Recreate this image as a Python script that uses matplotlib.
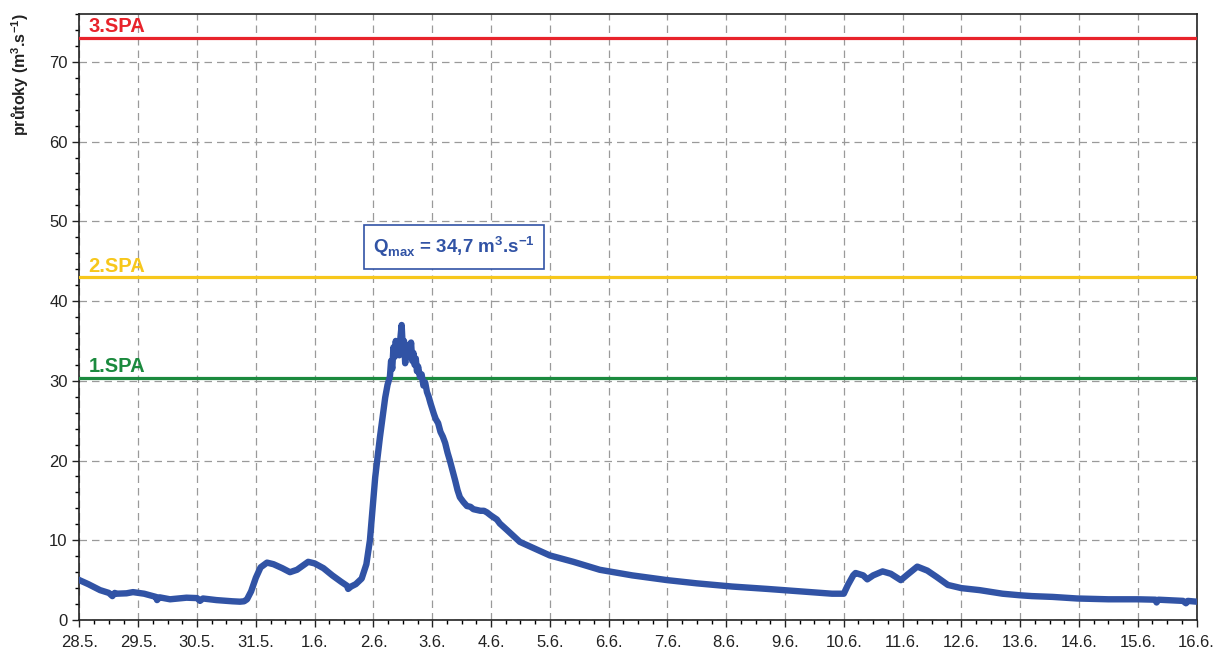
from matplotlib import pyplot as plt
from matplotlib.ticker import MultipleLocator
import numpy as np

plt.rcParams['font.family'] = ['Liberation Sans', 'DejaVu Sans']
plt.rcParams['mathtext.fontset'] = 'custom'
plt.rcParams['mathtext.rm'] = 'Liberation Sans'
plt.rcParams['mathtext.bf'] = 'Liberation Sans:bold'
plt.rcParams['axes.unicode_minus'] = False

# day labels, 28.5. .. 16.6.
days = ['28.5.', '29.5.', '30.5.', '31.5.', '1.6.', '2.6.', '3.6.', '4.6.', '5.6.', '6.6.',
        '7.6.', '8.6.', '9.6.', '10.6.', '11.6.', '12.6.', '13.6.', '14.6.', '15.6.', '16.6.']

# time in days since 28.5. 00:00, discharge in m3/s
t = [0.0, 0.15, 0.35, 0.5, 0.56, 0.6, 0.63, 0.8, 0.91, 1.1, 1.3, 1.32, 1.36, 1.54, 1.82, 2.0,
     2.05, 2.1, 2.33, 2.6, 2.73, 2.8, 2.85, 2.92, 3.0, 3.08, 3.19, 3.3, 3.45, 3.58, 3.7,
     3.89, 4.0, 4.15, 4.3, 4.45, 4.55, 4.57, 4.62, 4.7, 4.8, 4.88, 4.94, 5.03, 5.11, 5.2,
     5.24, 5.28, 5.3, 5.32, 5.34, 5.36, 5.38, 5.4, 5.42, 5.44, 5.46, 5.48, 5.5, 5.52, 5.54,
     5.56, 5.58, 5.6, 5.62, 5.64, 5.66, 5.68, 5.7, 5.72, 5.74, 5.76, 5.79, 5.82, 5.85, 5.88,
     5.91, 5.94, 5.97, 6.0, 6.03, 6.06, 6.1, 6.14, 6.18, 6.22, 6.26, 6.3, 6.35, 6.39, 6.43,
     6.47, 6.53, 6.59, 6.65, 6.7, 6.76, 6.82, 6.88, 6.93, 7.0, 7.1, 7.15, 7.27, 7.49, 8.0,
     8.4, 8.85, 9.4, 10.0, 10.5, 11.1, 11.7, 12.25, 12.8, 13.0,
     13.07, 13.16, 13.2, 13.33, 13.4, 13.5, 13.66, 13.8, 13.97, 14.1, 14.25, 14.42, 14.58,
     14.77, 15.0, 15.31, 15.7, 16.0, 16.2, 16.55, 16.97, 17.5, 18.0, 18.3, 18.32, 18.35,
     18.77, 18.82, 18.85, 19.0]
q = [5.0, 4.5, 3.75, 3.4, 3.0, 3.4, 3.3, 3.35, 3.5, 3.3, 2.9, 2.5, 2.85, 2.6, 2.8, 2.75,
     2.4, 2.7, 2.5, 2.35, 2.3, 2.35, 2.6, 3.6, 5.3, 6.6, 7.2, 7.0, 6.5, 6.0, 6.3,
     7.3, 7.1, 6.5, 5.6, 4.8, 4.3, 3.9, 4.2, 4.5, 5.2, 7.0, 10.0, 17.9, 22.9, 27.9,
     29.5, 30.5, 32.5, 31.5, 34.2, 33.0, 35.0, 33.5, 34.7, 33.2, 35.5, 37.0, 34.0, 35.0, 32.2,
     34.0, 33.0, 34.5, 33.2, 34.8, 32.5, 33.5, 32.0, 32.8, 31.2, 31.8, 30.5, 30.8, 29.4, 29.8,
     28.6, 28.0, 27.2, 26.5, 25.8, 25.2, 24.7, 23.6, 23.0, 22.2, 21.0, 20.0, 18.6, 17.5, 16.3,
     15.4, 14.8, 14.3, 14.2, 13.9, 13.8, 13.7, 13.7, 13.5, 13.1, 12.6, 12.1, 11.3, 9.8, 8.1,
     7.3, 6.3, 5.6, 5.0, 4.6, 4.2, 3.9, 3.6, 3.3, 3.3,
     4.4, 5.6, 5.9, 5.6, 5.1, 5.6, 6.1, 5.8, 5.0, 5.8, 6.7, 6.2, 5.4,
     4.4, 4.0, 3.75, 3.3, 3.1, 3.0, 2.9, 2.7, 2.6, 2.6, 2.55, 2.2, 2.55,
     2.4, 2.1, 2.4, 2.3]

spa_levels = [30.4, 43.0, 73.0]
spa_labels = ['1.SPA', '2.SPA', '3.SPA']
spa_colors = ['#1b8a3e', '#f7c71b', '#e8232b']

q_max = '34,7'

fig = plt.figure(figsize=(12.17, 6.55), dpi=100)
ax = fig.add_axes([0.0653, 0.0534, 0.9832 - 0.0653, 0.9786 - 0.0534])
ax.set_xlim(0, 19)
ax.set_ylim(0, 76)

ax.xaxis.set_minor_locator(MultipleLocator(0.25))
ax.yaxis.set_minor_locator(MultipleLocator(2))
ax.set_xticks(np.arange(len(days)))
ax.set_xticklabels(days)
ax.set_yticks(np.arange(0, 80, 10))

ax.grid(True, which='major', color='#9a9a9a', linestyle=(0, (6, 4)), linewidth=0.9)
ax.tick_params(which='major', direction='out', length=5, width=1, labelsize=12, colors='#222222')
ax.tick_params(which='minor', direction='out', length=3, width=1)
ax.tick_params(axis='x', pad=6)
for s in ax.spines.values():
    s.set_linewidth(1.2)
    s.set_color('#222222')

for lvl, lab, col in zip(spa_levels, spa_labels, spa_colors):
    ax.axhline(lvl, color=col, lw=2.3, zorder=3)
    ax.text(0.15, lvl + 0.7, lab, color=col, fontsize=14.5, fontweight='bold',
            ha='left', va='baseline', zorder=4)

ax.plot(t, q, color='#3153a5', lw=4.6, solid_joinstyle='round', zorder=5)

ax.text(6.37, 46.8,
        r'Q$_\mathbf{max}$ = ' + q_max + r' m$^\mathbf{3}$.s$^\mathbf{-1}$',
        color='#3153a5', fontsize=13.5, fontweight='bold', ha='center', va='center',
        bbox=dict(boxstyle='square,pad=0.5', fc='white', ec='#3153a5', lw=1.2), zorder=6)

fig.text(20 / 1217, 1 - 13 / 655, r'průtoky (m$^\mathbf{3}$.s$^\mathbf{-1}$)', rotation=90,
         ha='center', va='top', fontsize=11.5, fontweight='bold', color='#222222')

fig.savefig('out.png', dpi=100)
